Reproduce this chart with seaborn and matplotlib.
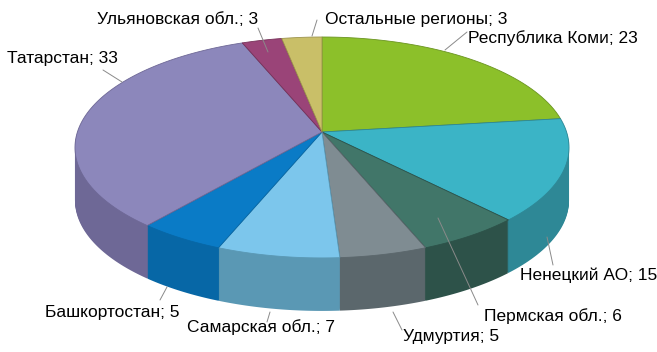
import numpy as np
import seaborn as sns
import matplotlib.pyplot as plt
from matplotlib.path import Path
from matplotlib.transforms import Transform, Affine2D

# data
regions = ["Республика Коми", "Ненецкий АО", "Пермская обл.", "Удмуртия",
           "Самарская обл.", "Башкортостан", "Татарстан", "Ульяновская обл.",
           "Остальные регионы"]
values = [23, 15, 6, 5, 7, 5, 33, 3, 3]

top_colors = ["#8cc02a", "#3bb4c6", "#417669", "#7f8c92", "#7cc6ec",
              "#0a7bc6", "#8c87bb", "#9a4478", "#c9bf68"]
side_colors = ["#6a9420", "#2e8896", "#2d5249", "#5b676c", "#5a98b4",
               "#0767a6", "#6e6896", "#763259", "#9d944e"]

# label text positions (pixels) and leader lines (pixels)
label_pos = [(468, 38), (520, 275), (484, 316), (403, 337), (187, 327),
             (45, 312), (7, 58), (97, 20), (325, 20)]
leaders = [((445, 50), (467, 32)), ((547, 237), (553, 265)),
           ((438, 218), (478, 305)), ((393, 312), (402, 330)),
           ((270, 312), (267, 322)), ((167, 287), (160, 300)),
           ((122, 82), (103, 70)), ((268, 52), (258, 28)),
           ((312, 36), (317, 20))]

W, H = 657, 352
cx, cy = 322, 132      # pie apex in pixels
sx, sy = 244.6, 108.3  # pixel scale of the projected unit disk
depth = 53             # thickness in pixels
tilt = 0.14            # perspective strength


class Perspective(Transform):
    """Simple homography: far half of the disk shrinks, near half grows."""
    input_dims = output_dims = 2
    is_separable = False

    def __init__(self, a):
        super().__init__()
        self.a = a

    def transform_non_affine(self, values):
        xy = np.asarray(values, dtype=float)
        d = 1 + self.a * xy[:, 1]
        return np.column_stack([xy[:, 0] / d, xy[:, 1] / d])

    def transform_path_non_affine(self, path):
        pts = []
        for seg, code in path.iter_bezier():
            if code == Path.MOVETO:
                pts.append(seg.control_points[:1])
            else:
                pts.append(seg(np.linspace(0, 1, 24))[1:])
        verts = np.concatenate(pts)
        verts = np.vstack([verts, verts[:1]])
        return Path(self.transform_non_affine(verts), closed=True)


def px(x, y):
    return (x - cx) / sx, (cy - y) / sy


sns.set_style("white")
plt.rcParams["font.family"] = ["Liberation Sans", "DejaVu Sans"]

fig = plt.figure(figsize=(W / 100, H / 100), dpi=100)
ax = fig.add_axes([0, 0, 1, 1])
persp = Perspective(tilt)

# side wall: stack of shifted pies, bottom first
for k in range(depth, 0, -1):
    shift = Affine2D().translate(0, -k / sy)
    wedges, _ = ax.pie(values, colors=side_colors, startangle=90,
                       counterclock=False, frame=True,
                       wedgeprops=dict(linewidth=0))
    for w in wedges:
        w.set_transform(persp + shift + ax.transData)

# top face
wedges, _ = ax.pie(values, colors=top_colors, startangle=90,
                   counterclock=False, frame=True,
                   wedgeprops=dict(linewidth=0.6))
for w, ec in zip(wedges, side_colors):
    w.set_edgecolor(ec)
    w.set_transform(persp + ax.transData)

# labels with leader lines
for name, v, (tx, ty), (p0, p1) in zip(regions, values, label_pos, leaders):
    x0, y0 = px(*p0)
    x1, y1 = px(*p1)
    ax.plot([x0, x1], [y0, y1], color="#8a8a8a", lw=0.7, zorder=5)
    lx, ly = px(tx, ty)
    ax.text(lx, ly, f"{name}; {v}", ha="left", va="center", fontsize=12.5,
            color="black", zorder=6)

ax.set_aspect("auto")
ax.set_xlim(px(0, 0)[0], px(W, 0)[0])
ax.set_ylim(px(0, H)[1], px(0, 0)[1])
ax.axis("off")

fig.savefig("out.png", dpi=100, facecolor="white")
